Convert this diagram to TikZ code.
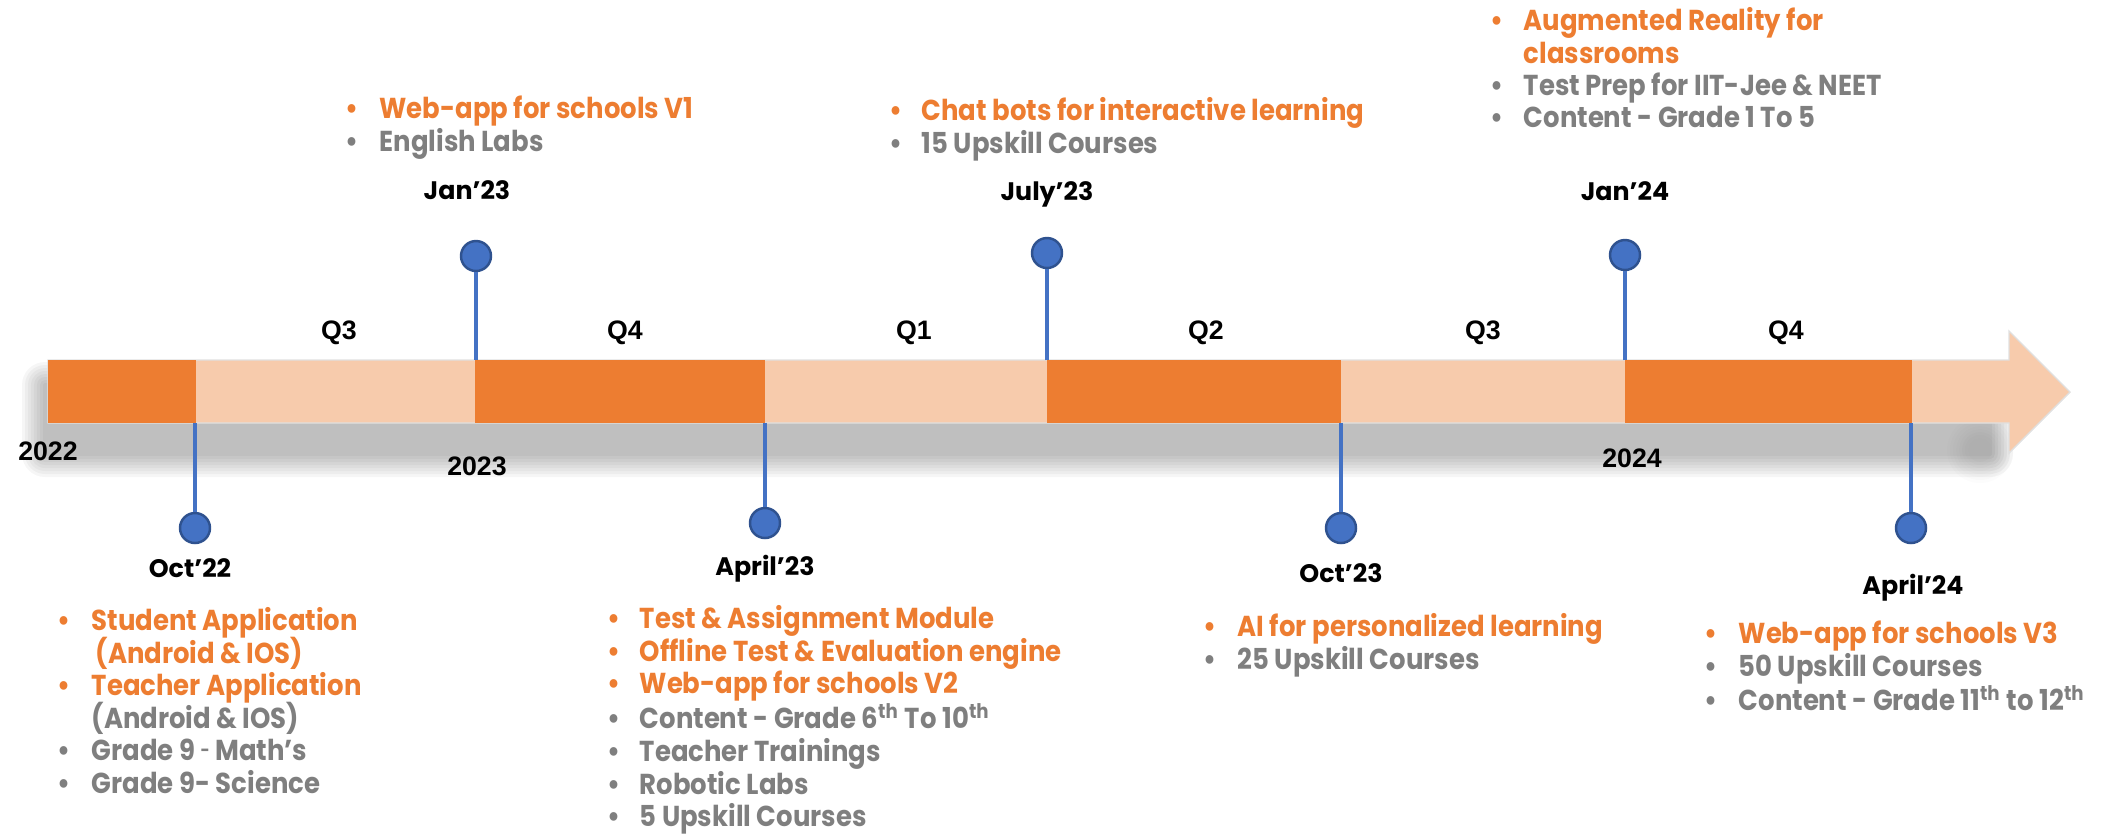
\documentclass[tikz,border=0pt]{standalone}
\usepackage{fontspec}
\setmainfont{Poppins}[FakeStretch=0.9]
\newfontfamily\mfont{Poppins}
\newfontfamily\qfont{Liberation Sans}
\usepackage{xcolor}
\definecolor{ora}{HTML}{ED7D31}
\definecolor{lite}{HTML}{F7CBAC}
\definecolor{blu}{HTML}{4472C4}
\definecolor{blud}{HTML}{2F528F}
\definecolor{gry}{HTML}{7F7F7F}
\newcommand{\oitem}[1]{\textcolor{ora}{\textbullet} & \textcolor{ora}{#1}\\}
\newcommand{\gitem}[1]{\textcolor{gry}{\textbullet} & \textcolor{gry}{#1}\\}

\begin{document}
\begin{tikzpicture}[
  stem/.style={blu,line width=0.9pt},
  dot/.style={circle,fill=blu,draw=blud,line width=0.7pt,minimum size=0.30cm,inner sep=0pt},
  qlab/.style={font=\qfont\bfseries\fontsize{7.6}{8}\selectfont},
  mlab/.style={font=\mfont\bfseries\fontsize{7.2}{8}\selectfont},
  blk/.style={anchor=north west,inner sep=0pt,font=\bfseries\fontsize{8.2}{9.2}\selectfont}]
  \useasboundingbox (0,0) rectangle (21.24,-8.36);

  \foreach \d in {0.02,0.05,...,0.24} {
    \fill[black,opacity=0.037,rounded corners=\d cm] (0.45-\d,-3.85+\d) rectangle (19.90+\d,-4.54-\d);
    \fill[black,opacity=0.012] (19.80,-4.50) circle (0.10+\d);
  }

  \path[fill=lite,draw=black!12,line width=0.4pt] (0.48,-3.60) -- (20.09,-3.60) -- (20.09,-3.31)
    -- (20.70,-3.92) -- (20.09,-4.53) -- (20.09,-4.23) -- (0.48,-4.23) -- cycle;
  \foreach \a/\b in {0.48/1.96, 4.75/7.65, 10.47/13.41, 16.25/19.12}
    \fill[ora] (\a,-3.60) rectangle (\b,-4.23);

  \foreach \n/\x/\y/\e in {oct22/1.95/-5.28/-4.23, jan23/4.76/-2.56/-3.60, apr23/7.65/-5.23/-4.23,
      jul23/10.47/-2.53/-3.60, oct23/13.41/-5.28/-4.23, jan24/16.25/-2.55/-3.60, apr24/19.11/-5.28/-4.23} {
    \coordinate (\n e) at (\x,\e);
    \node[dot] (\n) at (\x,\y) {};
    \draw[stem] (\n e) -- (\n);
  }

  \node[qlab] (q3a) at (3.39,-3.33) {Q3};
  \node[qlab] (q4a) at (6.25,-3.33) {Q4};
  \node[qlab] (q1) at (9.14,-3.33) {Q1};
  \node[qlab] (q2) at (12.06,-3.33) {Q2};
  \node[qlab] (q3b) at (14.83,-3.33) {Q3};
  \node[qlab] (q4b) at (17.86,-3.33) {Q4};
  \node[qlab] (y22) at (0.48,-4.51) {2022};
  \node[qlab] (y23) at (4.77,-4.66) {2023};
  \node[qlab] (y24) at (16.32,-4.58) {2024};

  \node[mlab] (oct22l) at (1.90,-5.68) {Oct’22};
  \node[mlab] (jan23l) at (4.67,-1.90) {Jan’23};
  \node[mlab] (apr23l) at (7.65,-5.69) {April’23};
  \node[mlab] (jul23l) at (10.47,-1.94) {July’23};
  \node[mlab] (oct23l) at (13.41,-5.73) {Oct’23};
  \node[mlab] (jan24l) at (16.25,-1.91) {Jan’24};
  \node[mlab] (apr24l) at (19.13,-5.88) {April’24};

  \node[blk] (oct22t) at (0.57,-6.07) {\begin{tabular}{@{}p{0.34cm}@{}l@{}}
    \oitem{Student Application}
    & \textcolor{ora}{\hspace{0.04cm}\smash{(Android \& IOS)}}\\
    \oitem{Teacher Application}
    & \textcolor{gry}{\smash{(Android \& IOS)}}\\
    \gitem{Grade 9 \raisebox{0.25ex}{\tiny -} Math’s}
    \gitem{Grade 9- Science}
  \end{tabular}};
  \node[blk] (jan23t) at (3.45,-0.95) {\begin{tabular}{@{}p{0.34cm}@{}l@{}}
    \oitem{Web-app for schools V1}
    \gitem{English Labs}
  \end{tabular}};
  \node[blk] (apr23t) at (6.07,-6.05) {\begin{tabular}{@{}p{0.32cm}@{}l@{}}
    \oitem{Test \& Assignment Module}
    \oitem{Offline Test \& Evaluation engine}
    \oitem{Web-app for schools V2}
    \gitem{Content - Grade 6\textsuperscript{th} To 10\textsuperscript{th}}
    \gitem{Teacher Trainings}
    \gitem{Robotic Labs}
    \gitem{5 Upskill Courses}
  \end{tabular}};
  \node[blk] (jul23t) at (8.89,-0.97) {\begin{tabular}{@{}p{0.32cm}@{}l@{}}
    \oitem{Chat bots for interactive learning}
    \gitem{15 Upskill Courses}
  \end{tabular}};
  \node[blk] (oct23t) at (12.03,-6.13) {\begin{tabular}{@{}p{0.34cm}@{}l@{}}
    \oitem{AI for personalized learning}
    \gitem{25 Upskill Courses}
  \end{tabular}};
  \node[blk] (jan24t) at (14.90,-0.07) {\begin{tabular}{@{}p{0.33cm}@{}l@{}}
    \oitem{Augmented Reality for}
    & \textcolor{ora}{classrooms}\\
    \gitem{Test Prep for IIT-Jee \& NEET}
    \gitem{Content - Grade 1 To 5}
  \end{tabular}};
  \node[blk] (apr24t) at (17.04,-6.20) {\begin{tabular}{@{}p{0.34cm}@{}l@{}}
    \oitem{Web-app for schools V3}
    \gitem{50 Upskill Courses}
    \gitem{Content - Grade 11\textsuperscript{th} to 12\textsuperscript{th}}
  \end{tabular}};
\end{tikzpicture}
\end{document}
